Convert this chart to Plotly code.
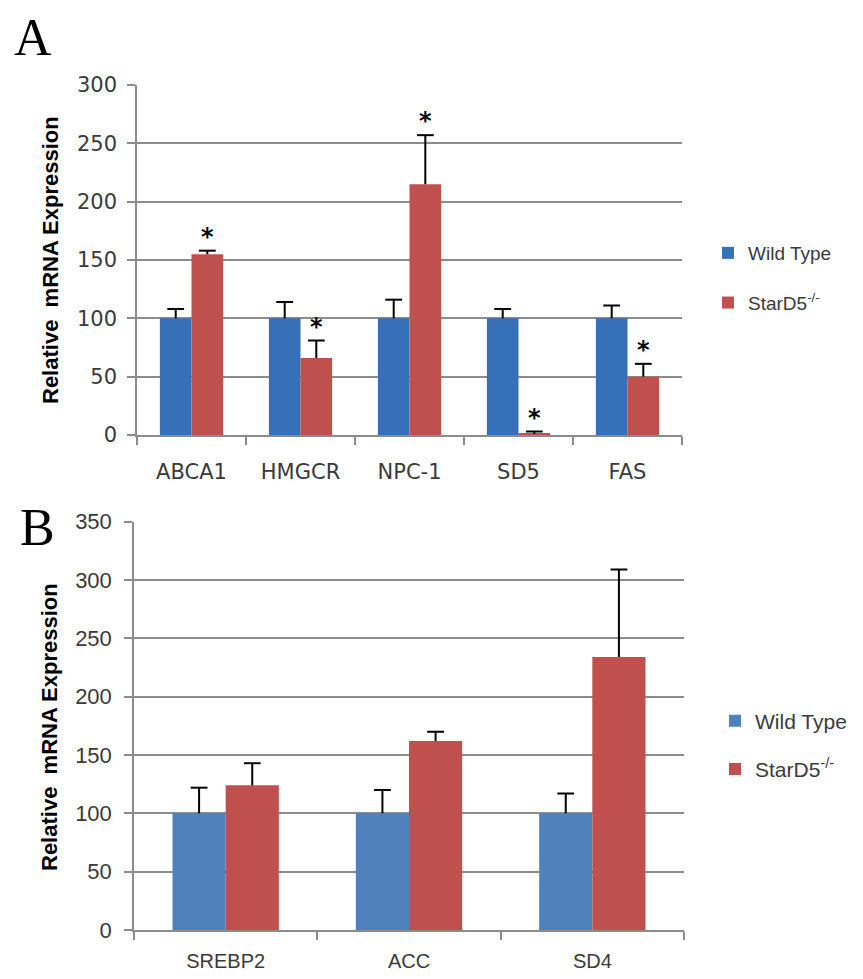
import plotly.graph_objects as go

# ---------------- data ----------------
cats_a = ["ABCA1", "HMGCR", "NPC-1", "SD5", "FAS"]
wt_a = [100, 100, 100, 100, 100]
wt_a_err = [8, 14, 16, 8, 11]
ko_a = [155, 66, 215, 1, 50]
ko_a_err = [3, 15, 42, 2, 11]
ko_a_sig = ["*", "*", "*", "*", "*"]

cats_b = ["SREBP2", "ACC", "SD4"]
wt_b = [100, 100, 100]
wt_b_err = [22, 20, 17]
ko_b = [124, 162, 234]
ko_b_err = [19, 8, 75]

yticks_a = [0, 50, 100, 150, 200, 250, 300]
yticks_b = [0, 50, 100, 150, 200, 250, 300, 350]

WT_A = "#3670B8"
WT_B = "#4F81BD"
KO = "#C0504D"
GRID = "#8C8C8C"
TXT = "#3A3A3A"

fig = go.Figure()


def add_panel(cats, wt, wte, ko, koe, sig, xa, ya, leg, wtcol):
    fig.add_trace(go.Bar(x=cats, y=wt, name="Wild Type", marker=dict(color=wtcol, line=dict(width=0)),
                         offsetgroup="wt",
                         xaxis=xa, yaxis=ya, legend=leg, legendgroup=leg + "wt"))
    fig.add_trace(go.Bar(x=cats, y=ko, name="StarD5<sup>-/-</sup>", marker=dict(color=KO, line=dict(width=0)),
                         offsetgroup="ko",
                         xaxis=xa, yaxis=ya, legend=leg, legendgroup=leg + "ko"))
    tops_wt = [v + e for v, e in zip(wt, wte)]
    tops_ko = [v + e for v, e in zip(ko, koe)]
    for tops, errs, grp in ((tops_wt, wte, "wt"), (tops_ko, koe, "ko")):
        fig.add_trace(go.Scatter(
            x=cats, y=tops, mode="markers", showlegend=False, hoverinfo="skip",
            offsetgroup=grp,
            marker=dict(symbol="line-ew", size=12, line=dict(width=2, color="black"), color="black"),
            error_y=dict(type="data", symmetric=False, array=[0] * len(cats), arrayminus=errs,
                         width=0, thickness=2, color="black"),
            xaxis=xa, yaxis=ya))
    if sig:
        fig.add_trace(go.Scatter(
            x=cats, y=tops_ko, mode="text", text=sig, textposition="top center",
            offsetgroup="ko", showlegend=False, hoverinfo="skip",
            textfont=dict(family="DejaVu Sans", size=24, color="black", weight="bold"),
            xaxis=xa, yaxis=ya))


add_panel(cats_a, wt_a, wt_a_err, ko_a, ko_a_err, ko_a_sig, "x", "y", "legend", WT_A)
add_panel(cats_b, wt_b, wt_b_err, ko_b, ko_b_err, None, "x2", "y2", "legend2", WT_B)

# page body has an 8px margin; figure is sized to fit inside the window
OFF = 8
W, H = 863 - 2 * OFF, 979 - 2 * OFF


def px_x(p):
    return (p - OFF) / W


def px_y(p):
    return 1 - (p - OFF) / H


xcommon = dict(type="category", showline=True, linecolor=GRID, linewidth=1.5,
               ticks="outside", tickson="boundaries", ticklen=8, tickcolor=GRID, tickwidth=1.5,
               showgrid=False, zeroline=False, automargin=False)
ycommon = dict(showline=True, linecolor=GRID, linewidth=1.5, showgrid=True, gridcolor=GRID,
               gridwidth=1.5, ticks="outside", ticklen=8, tickcolor=GRID, tickwidth=1.5,
               zeroline=False, automargin=False)

fig.update_layout(
    width=W, height=H,
    margin=dict(l=0, r=0, t=0, b=0, autoexpand=False),
    paper_bgcolor="white", plot_bgcolor="white",
    barmode="group", bargap=0.42, scattermode="group", scattergap=0.42,
    xaxis=dict(domain=[px_x(137), px_x(682)], anchor="y", ticklabelstandoff=17,
               tickfont=dict(family="DejaVu Sans", size=21, color=TXT), **xcommon),
    yaxis=dict(domain=[px_y(435), px_y(85)], anchor="x", range=[0, 300], tickvals=yticks_a,
               tickfont=dict(family="DejaVu Sans", size=21, color=TXT), ticklabelstandoff=6, **ycommon),
    xaxis2=dict(domain=[px_x(134), px_x(684)], anchor="y2", ticklabelstandoff=12,
                tickfont=dict(family="Liberation Sans", size=20, color=TXT), **xcommon),
    yaxis2=dict(domain=[px_y(930), px_y(521.7)], anchor="x2", range=[0, 350], tickvals=yticks_b,
                tickfont=dict(family="Liberation Sans", size=22, color=TXT), ticklabelstandoff=8, **ycommon),
    legend=dict(x=px_x(708), y=px_y(278), xanchor="left", yanchor="middle",
                font=dict(family="Liberation Sans", size=19, color=TXT),
                tracegroupgap=22, bgcolor="rgba(0,0,0,0)", itemclick=False),
    legend2=dict(x=px_x(715), y=px_y(745), xanchor="left", yanchor="middle",
                 font=dict(family="Liberation Sans", size=21, color=TXT),
                 tracegroupgap=18, bgcolor="rgba(0,0,0,0)", itemclick=False),
    showlegend=True,
)

ann_common = dict(xref="paper", yref="paper", showarrow=False, xanchor="center", yanchor="middle")
fig.add_annotation(text="A", x=px_x(33), y=px_y(37),
                   font=dict(family="Liberation Serif", size=52, color="black"), **ann_common)
fig.add_annotation(text="B", x=px_x(37), y=px_y(527),
                   font=dict(family="Liberation Serif", size=52, color="black"), **ann_common)
fig.add_annotation(text="<b>Relative  mRNA Expression</b>", x=px_x(50), y=px_y(260), textangle=-90,
                   font=dict(family="Liberation Sans", size=22, color="black"), **ann_common)
fig.add_annotation(text="<b>Relative  mRNA Expression</b>", x=px_x(49), y=px_y(727), textangle=-90,
                   font=dict(family="Liberation Sans", size=22, color="black"), **ann_common)

fig.write_html("out.html")
